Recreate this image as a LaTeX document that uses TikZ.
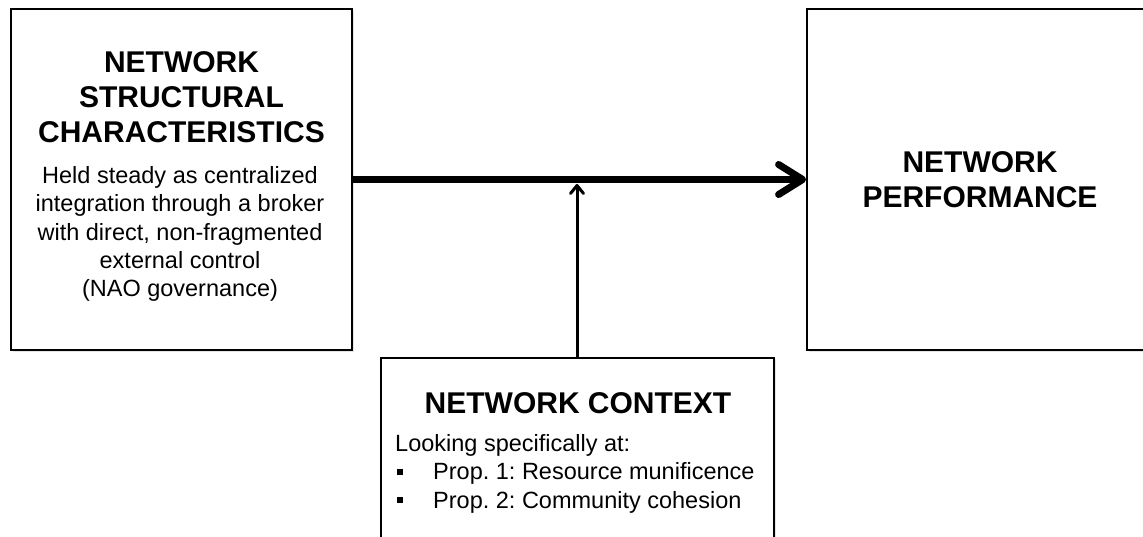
\documentclass[tikz,border=0pt]{standalone}
\usepackage{fontspec}
\setmainfont{Liberation Sans}
\usetikzlibrary{arrows.meta,shadows}
\frenchspacing
\begin{document}
\begin{tikzpicture}[x=1pt,y=-1pt,
  panel/.style={draw=black,line width=1.8pt,fill=white,rectangle,inner sep=0pt,
    drop shadow={shadow xshift=1.5pt,shadow yshift=-1.5pt,opacity=0.2}},
  headtext/.style={font=\bfseries\fontsize{30}{35}\selectfont,align=center,inner sep=0pt},
  bodytext/.style={font=\fontsize{23.5}{28.4}\selectfont,inner sep=0pt},
  mainarrow/.style={line width=7pt,-{Straight Barb[length=24pt,width=30pt,round]}},
  modarrow/.style={line width=3pt,-{Straight Barb[length=8pt,width=13pt,round]}}
]
\useasboundingbox (0,0) rectangle (1143,537);
\fill[white] (0,0) rectangle (1143,537);
\clip (0,0) rectangle (1143,537);

% the three boxes
\node[panel,minimum width=341pt,minimum height=341pt] (struct) at (181.5,179.5) {};
\node[panel,minimum width=342pt,minimum height=341pt] (perf) at (978,179.5) {};
\node[panel,minimum width=393pt,minimum height=240pt,anchor=north] (ctx) at (577.5,357) {};

% box texts
\node[headtext] (structhead) at (181.5,97) {NETWORK\\STRUCTURAL\\CHARACTERISTICS};
\node[bodytext,align=center] (structbody) at (180,234)
  {Held steady as centralized\\integration through a broker\\with direct, non-fragmented\\external control\\(NAO governance)};
\node[headtext] (perfhead) at (980,180) {NETWORK\\PERFORMANCE};
\node[headtext] (ctxhead) at (578,403) {NETWORK CONTEXT};
\newcommand{\sqbullet}{\makebox[38pt][l]{\hspace*{2pt}\raisebox{5pt}{\rule{6pt}{6pt}}}}
\node[bodytext,align=left,anchor=north west] (ctxbody) at (395,434)
  {Looking specifically at:\\
   \sqbullet Prop. 1: Resource munificence\\
   \sqbullet Prop. 2: Community cohesion};

% connectors
\coordinate (hit) at (577,184);
\draw[mainarrow] (struct.east) -- (perf.west);
\draw[modarrow] (ctx.north -| hit) -- (hit);
\end{tikzpicture}
\end{document}
